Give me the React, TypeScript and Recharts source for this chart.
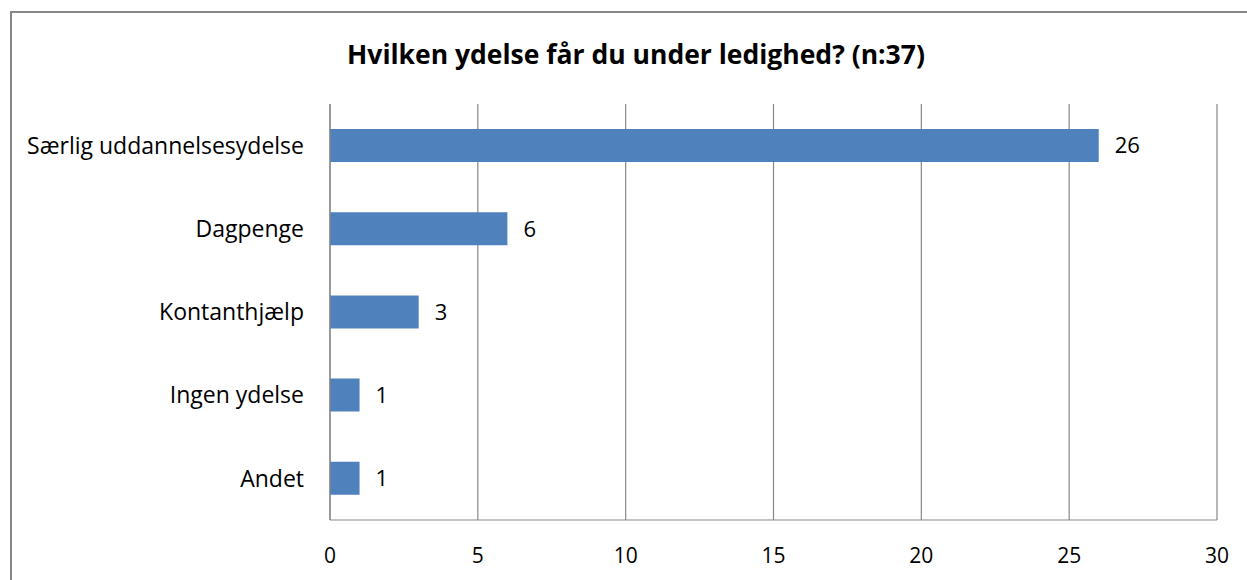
import { BarChart, Bar, XAxis, YAxis, CartesianGrid, LabelList } from 'recharts'

const categories = ['Særlig uddannelsesydelse', 'Dagpenge', 'Kontanthjælp', 'Ingen ydelse', 'Andet']
const counts = [26, 6, 3, 1, 1]
const xTicks = [0, 5, 10, 15, 20, 25, 30]

const FONT = '"Open Sans", sans-serif'
const GRID = '#878787'

export default function App() {
  const data = categories.map((name, i) => ({ name, value: counts[i] }))

  return (
    <div style={{ position: 'absolute', left: 0, top: 0, width: 1247, height: 580, overflow: 'hidden', background: '#fff', fontFamily: FONT }}>
      <div style={{ position: 'absolute', left: 10, top: 11, width: 1400, height: 700, borderLeft: `2px solid ${GRID}`, borderTop: `2px solid ${GRID}` }} />
      <div style={{ position: 'absolute', left: 0, width: 1272, top: 36, textAlign: 'center', fontWeight: 700, fontSize: 26.5, color: '#000', lineHeight: '36px' }}>
        Hvilken ydelse får du under ledighed? (n:37)
      </div>
      <BarChart
        layout="vertical"
        width={1247}
        height={580}
        data={data}
        margin={{ top: 104, right: 30, bottom: 20, left: 0 }}
        style={{ position: 'absolute', left: 0, top: 0 }}
      >
        <CartesianGrid horizontal={false} stroke={GRID} strokeWidth={1.2} />
        <XAxis
          type="number"
          domain={[0, 30]}
          ticks={xTicks}
          interval={0}
          height={40}
          tickLine={false}
          tickSize={0}
          tickMargin={28}
          axisLine={{ stroke: GRID, strokeWidth: 1.2 }}
          tick={{ fontSize: 21, fill: '#000', fontFamily: FONT }}
        />
        <YAxis
          type="category"
          dataKey="name"
          width={330}
          tickLine={false}
          tickSize={0}
          tickMargin={26}
          axisLine={{ stroke: GRID, strokeWidth: 1.2 }}
          tick={{ fontSize: 23, fill: '#000', fontFamily: FONT }}
        />
        <Bar dataKey="value" fill="#4F81BD" barSize={33} isAnimationActive={false}>
          <LabelList dataKey="value" position="right" offset={16} style={{ fontSize: 22, fill: '#000', fontFamily: FONT }} />
        </Bar>
      </BarChart>
    </div>
  )
}
